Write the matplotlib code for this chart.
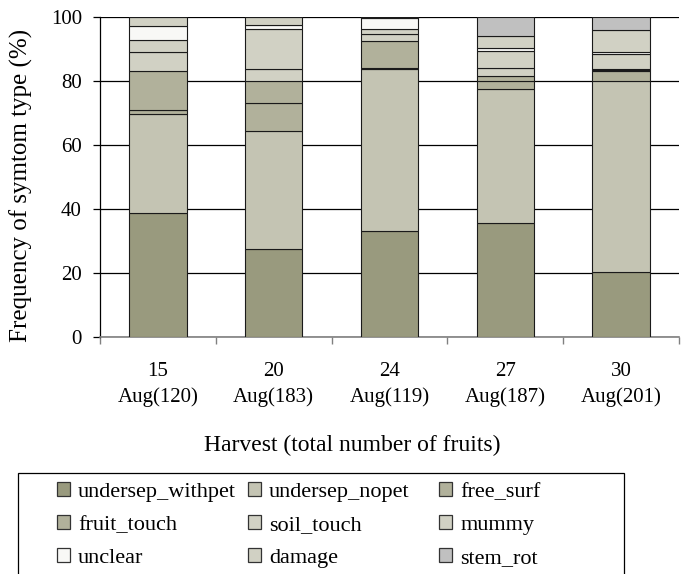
import matplotlib
matplotlib.use("Agg")
import matplotlib.pyplot as plt
from matplotlib.patches import Rectangle
import numpy as np

plt.rcParams['font.family'] = ['Liberation Serif', 'DejaVu Serif']

categories = ["15\nAug(120)", "20\nAug(183)", "24\nAug(119)", "27\nAug(187)", "30\nAug(201)"]
series_names = ["undersep_withpet", "undersep_nopet", "free_surf", "fruit_touch",
                "soil_touch", "mummy", "unclear", "damage", "stem_rot"]
undersep_withpet = [38.9, 27.5, 33.2, 35.5, 20.4]
undersep_nopet = [30.7, 36.9, 50.7, 41.9, 59.5]
free_surf = [1.4, 8.8, 0.3, 2.7, 3.1]
fruit_touch = [12.0, 6.8, 8.2, 1.6, 0.4]
soil_touch = [6.2, 3.8, 2.4, 2.4, 0.4]
mummy = [3.6, 12.6, 1.5, 5.4, 4.5]
unclear = [4.5, 1.2, 3.3, 0.7, 0.7]
damage = [2.7, 2.4, 0.4, 4.0, 7.0]
stem_rot = [0.0, 0.0, 0.0, 5.8, 4.0]
series_values = [undersep_withpet, undersep_nopet, free_surf, fruit_touch,
                 soil_touch, mummy, unclear, damage, stem_rot]
colors = ["#999a7e", "#c4c4b3", "#b1b19b", "#b1b19b",
          "#d1d1c4", "#d1d1c4", "#f8f8f6", "#d1d1c4", "#c0c0c0"]
yticks = [0, 20, 40, 60, 80, 100]

W, H = 687, 574
fig = plt.figure(figsize=(W / 100, H / 100), dpi=100)
ax = fig.add_axes([100 / W, 1 - 337 / H, 579 / W, 320 / H])

x = np.arange(len(categories))
bottom = np.zeros(len(categories))
handles = []
for name, vals, col in zip(series_names, series_values, colors):
    v = np.array(vals)
    b = ax.bar(x, v, width=0.495, bottom=bottom, color=col, edgecolor="#1a1a1a",
               linewidth=0.8, label=name, zorder=3)
    handles.append(b)
    bottom += v

ax.set_xlim(-0.5, len(categories) - 0.5)
ax.set_ylim(0, 100)
ax.set_yticks(yticks)
ax.set_yticklabels([str(t) for t in yticks], fontsize=15)
ax.yaxis.grid(True, color="black", linewidth=0.9, zorder=0)
ax.set_axisbelow(True)

ax.set_xticks(np.arange(-0.5, len(categories), 1.0))
ax.set_xticklabels([])
ax.set_xticks(x, minor=True)
ax.set_xticklabels(categories, minor=True, fontsize=15, linespacing=1.45)
ax.tick_params(axis="x", which="major", length=5, direction="out", color="#808080", width=1)
ax.tick_params(axis="x", which="minor", length=0, pad=18)
ax.tick_params(axis="y", length=5, direction="out", width=0.9, pad=8)

for s in ["top", "right"]:
    ax.spines[s].set_visible(False)
ax.spines["bottom"].set_color("#808080")
ax.spines["bottom"].set_linewidth(1.2)
ax.spines["left"].set_linewidth(0.9)

ax.set_ylabel("Frequency of symtom type (%)", fontsize=18)
ax.yaxis.set_label_coords(-0.116, 0.475)
ax.set_xlabel("Harvest (total number of fruits)", fontsize=17)
ax.xaxis.set_label_coords(0.435, -0.305)

# legend frame
fig.patches.append(Rectangle((18 / W, -0.05), (624 - 18) / W, (1 - 473 / H) + 0.05,
                             transform=fig.transFigure, facecolor="white",
                             edgecolor="black", linewidth=0.9, zorder=0))
col_x = [57, 248, 439]
for j in range(3):
    idx = [j, j + 3, j + 6]
    lg = fig.legend([handles[i] for i in idx], [series_names[i] for i in idx],
                    loc="upper left", bbox_to_anchor=(col_x[j] / W, 1 - 482 / H),
                    frameon=False, fontsize=16, handlelength=0.6, handleheight=0.6,
                    handletextpad=0.35, labelspacing=0.59, borderpad=0, borderaxespad=0)
    for p in lg.get_patches():
        p.set_edgecolor("#333333")
        p.set_linewidth(0.9)

fig.savefig("out.png", dpi=100)
